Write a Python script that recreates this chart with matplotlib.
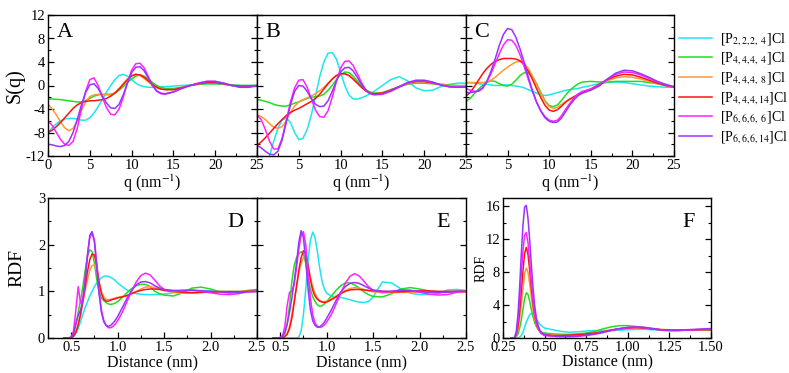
import numpy as np
import matplotlib
matplotlib.use("Agg")
import matplotlib.pyplot as plt
from matplotlib.ticker import MultipleLocator, NullFormatter

plt.rcParams["font.family"] = ["Liberation Serif", "DejaVu Serif"]
plt.rcParams["mathtext.fontset"] = "stix"
plt.rcParams["axes.unicode_minus"] = False

# ---- data ---------------------------------------------------------------
labels = [r"[P$_{2,2,2,\ 4}$]Cl", r"[P$_{4,4,4,\ 4}$]Cl", r"[P$_{4,4,4,\ 8}$]Cl",
          r"[P$_{4,4,4,14}$]Cl", r"[P$_{6,6,6,\ 6}$]Cl", r"[P$_{6,6,6,14}$]Cl"]
colors = ["#1ee6ee", "#22dd22", "#ff9933", "#ff1111", "#ff22ff", "#9933ff"]

# q grid (nm^-1) for the structure factors
q = np.concatenate([np.arange(0, 14, 0.5), np.arange(14, 26, 1.0)])

# panel A
sqA_2224 = [-8, -7.2, -6.5, -6, -5.7, -5.6, -5.6, -5.7, -5.9, -5.9, -5.5, -4.7, -3.6, -2.4,
            -1.1, 0, 1, 1.7, 1.9, 1.6, 1, 0.4, 0, -0.2, -0.3, -0.3, -0.3, -0.2,
            -0.2, -0.1, 0, 0.1, 0.2, 0.3, 0.3, 0.2, 0.1, 0, 0, 0]
sqA_4444 = [-2.3, -2.3, -2.35, -2.4, -2.5, -2.6, -2.7, -2.8, -2.8, -2.6, -2.2, -1.8, -1.6, -1.5,
            -1.5, -1.5, -1.3, -0.8, -0.2, 0.5, 1.1, 1.6, 1.8, 1.6, 1.1, 0.5, 0, -0.3,
            -0.5, -0.5, -0.3, 0, 0.2, 0.3, 0.3, 0.2, 0.1, 0, 0, 0]
sqA_4448 = [-3.2, -4, -5, -6.2, -7.2, -7.7, -7.3, -6, -4.3, -2.8, -1.9, -1.6, -1.5, -1.5,
            -1.6, -1.6, -1.2, -0.5, 0.3, 1.1, 1.7, 1.9, 1.7, 1.2, 0.6, 0, -0.4, -0.6,
            -0.7, -0.7, -0.4, 0, 0.3, 0.5, 0.5, 0.3, 0, -0.1, -0.1, 0]
sqA_44414 = [-8, -7.6, -7, -6.3, -5.5, -4.7, -3.9, -3.3, -2.9, -2.7, -2.6, -2.6, -2.5, -2.4,
             -2.2, -1.8, -1.3, -0.6, 0.2, 1, 1.6, 1.9, 1.8, 1.4, 0.8, 0.2, -0.3, -0.6,
             -0.7, -0.7, -0.4, 0, 0.3, 0.5, 0.5, 0.3, 0, -0.1, -0.1, 0]
sqA_6666 = [-6, -6.8, -8, -9.2, -10, -10.2, -9.5, -7.3, -4, -1, 1, 1.3, 0, -2,
            -3.8, -4.9, -5, -4, -2, 0.5, 2.6, 3.7, 3.8, 3, 1.5, 0, -1, -1.4,
            -1.5, -1.1, -0.5, 0, 0.4, 0.7, 0.7, 0.4, 0, -0.3, -0.3, 0]
sqA_66614 = [-10, -10.1, -10.3, -10.4, -10.2, -9.5, -8, -5.8, -3.3, -1.2, 0.1, 0.3, -0.5, -1.8,
             -3, -3.8, -3.9, -3.2, -1.6, 0.4, 2.2, 3.1, 3.2, 2.5, 1.3, 0, -0.9, -1.3,
             -1.4, -1.1, -0.5, 0, 0.4, 0.7, 0.7, 0.4, 0, -0.3, -0.3, 0]

# panel B
sqB_2224 = [-16, -15, -14, -12, -9.5, -7.3, -5.9, -5.5, -6.3, -8, -9.2, -9, -7.5, -5,
            -1.8, 1.5, 4, 5.5, 5.6, 4.5, 2.3, 0, -1.6, -2.3, -2.3, -2.1, -1.8, -1.4,
            -1.0, 0, 1.0, 1.5, 0.8, -0.4, -0.9, -0.8, -0.2, 0.2, 0.4, 0.4]
sqB_4444 = [-2.4, -2.5, -2.7, -2.9, -3.2, -3.4, -3.5, -3.5, -3.3, -3, -2.8, -2.5, -2.2, -2,
            -1.9, -1.8, -1.5, -0.8, 0, 1, 1.8, 2.3, 2.2, 1.6, 0.8, 0, -0.7, -1.1,
            -1.3, -1.2, -0.7, -0.2, 0.2, 0.4, 0.4, 0.3, 0.2, 0.1, 0, 0]
sqB_4448 = [-5, -5.3, -5.8, -6.5, -7.1, -7.3, -7, -6, -4.6, -3.5, -2.8, -2.4, -2.1, -1.8,
            -1.4, -0.9, -0.3, 0.4, 1.1, 1.7, 2, 2, 1.7, 1.1, 0.4, -0.3, -0.9, -1.3,
            -1.4, -1.3, -0.8, -0.2, 0.3, 0.6, 0.6, 0.4, 0.2, 0, -0.1, 0]
sqB_44414 = [-10.2, -9.6, -8.9, -8.1, -7.3, -6.5, -5.8, -5.1, -4.6, -4.2, -3.9, -3.5, -3.1, -2.7,
             -2.2, -1.5, -0.6, 0.3, 1.1, 1.7, 2, 2, 1.7, 1.1, 0.4, -0.3, -0.9, -1.3,
             -1.4, -1.3, -0.8, -0.2, 0.4, 0.7, 0.7, 0.4, 0.1, -0.2, -0.3, -0.3]
sqB_6666 = [-5, -5.8, -7.5, -9.5, -10.8, -10.8, -9, -6, -2.8, -0.4, 0.9, 1, -0.3, -2.3,
            -4.2, -5.3, -5.4, -4.3, -2, 0.7, 3, 4.1, 4.2, 3.4, 2, 0.5, -0.7, -1.4,
            -1.6, -1.5, -1, -0.3, 0.4, 0.8, 0.8, 0.5, 0.1, -0.2, -0.3, -0.2]
sqB_66614 = [-10.2, -10.6, -11.2, -11.7, -11.8, -11.2, -9.3, -6.3, -3.3, -1, 0, -0.1, -1, -2.2,
             -3.2, -3.6, -3.5, -2.6, -1, 0.8, 2.3, 3, 3.1, 2.5, 1.4, 0.2, -0.8, -1.3,
             -1.5, -1.4, -0.9, -0.2, 0.5, 0.9, 0.9, 0.6, 0.1, -0.2, -0.3, -0.2]

# panel C
sqC_2224 = [0.5, 0.5, 0.4, 0.3, 0.2, 0.2, 0.1, 0, 0, 0.1, 0.1, 0, -0.1, -0.2,
            -0.4, -0.7, -1, -1.3, -1.6, -1.7, -1.6, -1.4, -1.2, -1, -0.8, -0.7, -0.6, -0.5,
            -0.3, 0, 0.3, 0.5, 0.6, 0.5, 0.3, 0.1, -0.1, -0.2, -0.3, -0.3]
sqC_4444 = [-2.7, -2.2, -1.4, -0.6, 0, 0.5, 0.8, 0.7, 0.3, 0, -0.1, 0.2, 0.9, 1.7,
            2.2, 2.1, 1.5, 0.3, -1.2, -2.6, -3.4, -3.6, -3.3, -2.5, -1.6, -0.8, -0.2, 0.3,
            0.6, 0.7, 0.6, 0.6, 0.7, 0.7, 0.7, 0.7, 0.5, 0.3, 0, -0.3]
sqC_4448 = [0.4, 0.5, 0.5, 0.5, 0.5, 0.6, 0.9, 1.4, 2, 2.6, 3.1, 3.6, 4, 4.1,
            3.8, 2.9, 1.6, 0.1, -1.4, -2.7, -3.6, -3.9, -3.7, -3.2, -2.7, -2.3, -1.9, -1.5,
            -1.2, -0.6, 0.1, 0.8, 1.3, 1.5, 1.4, 1.1, 0.7, 0.3, 0, -0.3]
sqC_44414 = [-1.8, -1.2, -0.2, 0.9, 2, 2.9, 3.6, 4.1, 4.4, 4.6, 4.6, 4.6, 4.5, 4.2,
             3.5, 2.4, 1, -0.6, -2.1, -3.4, -4.2, -4.4, -4.1, -3.5, -2.8, -2.3, -1.9, -1.5,
             -1.2, -0.6, 0.2, 1, 1.6, 1.9, 1.8, 1.4, 0.9, 0.4, 0, -0.3]
sqC_6666 = [-0.5, -0.8, -1, -1, -0.5, 0.6, 2, 3.7, 5.4, 6.9, 7.8, 7.7, 6.8, 5.2,
            3.2, 1, -1.1, -2.9, -4.3, -5.3, -5.9, -6.1, -5.9, -5.1, -4, -3, -2.1, -1.4,
            -1, -0.6, 0.1, 1.1, 1.9, 2.3, 2.2, 1.8, 1.2, 0.6, 0.1, -0.3]
sqC_66614 = [-1.2, -1.2, -1.1, -0.9, -0.4, 0.7, 2.4, 4.5, 6.8, 8.7, 9.7, 9.5, 8.2, 6.2,
             3.9, 1.4, -0.9, -2.9, -4.4, -5.5, -6.1, -6.3, -6.2, -5.5, -4.4, -3.3, -2.4, -1.7,
             -1.3, -0.8, -0.1, 1.1, 2.1, 2.6, 2.5, 2, 1.4, 0.7, 0.2, -0.2]

# distance grid (nm) for panels D and E
r = np.concatenate([np.arange(0.425, 1.0001, 0.025), np.arange(1.05, 1.5001, 0.05),
                    np.arange(1.6, 2.5001, 0.1)])

# panel D
rdfD_2224 = [0, 0, 0, 0, 0.03, 0.1, 0.2, 0.35, 0.5, 0.65, 0.78, 0.9, 1.0, 1.1, 1.18, 1.25,
             1.29, 1.32, 1.33, 1.32, 1.3, 1.27, 1.23, 1.18,
             1.1, 1.03, 0.98, 0.95, 0.94, 0.93, 0.93, 0.93, 0.93, 0.94,
             0.97, 1.0, 1.02, 1.02, 1.01, 1.0, 1.0, 1.0, 1.0, 1.0]
rdfD_4444 = [0, 0, 0, 0.02, 0.1, 0.3, 0.55, 0.8, 1.1, 1.45, 1.75, 1.89, 1.85, 1.6, 1.25, 0.98,
             0.85, 0.8, 0.76, 0.73, 0.72, 0.73, 0.75, 0.78,
             0.87, 0.97, 1.06, 1.12, 1.15, 1.15, 1.1, 1.0, 0.95, 0.92,
             0.9, 0.97, 1.07, 1.09, 1.05, 0.99, 0.96, 0.98, 1.02, 1.04]
rdfD_4448 = [0, 0, 0, 0.01, 0.05, 0.15, 0.3, 0.5, 0.75, 1.0, 1.25, 1.45, 1.55, 1.57, 1.45, 1.2,
             1.0, 0.88, 0.83, 0.82, 0.83, 0.84, 0.86, 0.87,
             0.89, 0.91, 0.95, 1.0, 1.05, 1.09, 1.1, 1.08, 1.05, 1.02,
             0.98, 0.96, 0.96, 0.97, 0.99, 1.0, 1.0, 1.0, 1.0, 1.0]
rdfD_44414 = [0, 0, 0, 0.01, 0.04, 0.12, 0.28, 0.5, 0.8, 1.1, 1.42, 1.68, 1.8, 1.78, 1.55, 1.2,
              0.95, 0.83, 0.79, 0.79, 0.81, 0.83, 0.84, 0.86,
              0.88, 0.91, 0.95, 0.99, 1.02, 1.04, 1.05, 1.05, 1.04, 1.02,
              1.0, 0.98, 0.97, 0.98, 0.98, 0.99, 0.99, 0.99, 1.0, 1.0]
rdfD_6666 = [0, 0, 0, 0.02, 0.15, 0.6, 1.1, 0.75, 0.85, 1.3, 1.8, 2.15, 2.25, 2.1, 1.6, 1.0,
             0.6, 0.38, 0.27, 0.22, 0.22, 0.25, 0.3, 0.37,
             0.55, 0.78, 1.0, 1.2, 1.34, 1.39, 1.35, 1.24, 1.12, 1.04,
             1.0, 1.02, 1.03, 1.0, 0.97, 0.94, 0.93, 0.95, 0.99, 1.0]
rdfD_66614 = [0, 0, 0, 0.02, 0.1, 0.3, 0.48, 0.6, 0.8, 1.2, 1.75, 2.2, 2.28, 2.05, 1.5, 0.95,
              0.55, 0.35, 0.27, 0.25, 0.27, 0.32, 0.38, 0.46,
              0.65, 0.85, 1.02, 1.14, 1.2, 1.21, 1.18, 1.12, 1.07, 1.04,
              1.02, 1.02, 1.02, 1.01, 1.0, 0.99, 0.98, 0.98, 0.99, 1.0]

# panel E
rdfE_2224 = [0, 0, 0, 0, 0, 0, 0, 0, 0, 0, 0, 0.02, 0.15, 0.5, 1.05, 1.65,
             2.1, 2.27, 2.15, 1.85, 1.5, 1.22, 1.05, 0.96,
             0.9, 0.88, 0.87, 0.85, 0.82, 0.79, 0.77, 0.76, 0.78, 0.88,
             1.2, 1.18, 1.05, 0.96, 0.93, 0.93, 0.95, 1.03, 1.04, 1.02]
rdfE_4444 = [0, 0, 0, 0, 0.02, 0.1, 0.3, 0.7, 1.2, 1.55, 1.72, 1.8, 1.85, 1.8, 1.6, 1.3,
             1.05, 0.88, 0.78, 0.71, 0.68, 0.69, 0.73, 0.78,
             0.9, 1.02, 1.12, 1.18, 1.18, 1.14, 1.07, 0.99, 0.93, 0.89,
             0.88, 0.95, 1.05, 1.08, 1.05, 1.01, 0.99, 0.99, 1.0, 1.0]
rdfE_4448 = [0, 0, 0, 0, 0.01, 0.04, 0.1, 0.25, 0.5, 0.8, 1.1, 1.4, 1.6, 1.72, 1.72, 1.55,
             1.3, 1.1, 0.95, 0.86, 0.8, 0.78, 0.78, 0.79,
             0.84, 0.9, 0.96, 1.02, 1.06, 1.08, 1.07, 1.04, 1.01, 0.99,
             0.97, 0.97, 0.98, 0.98, 0.98, 0.98, 0.98, 0.98, 0.98, 0.98]
rdfE_44414 = [0, 0, 0, 0, 0.01, 0.03, 0.08, 0.2, 0.42, 0.75, 1.1, 1.45, 1.72, 1.87, 1.82, 1.55,
              1.25, 1.02, 0.9, 0.83, 0.79, 0.77, 0.76, 0.77,
              0.82, 0.88, 0.95, 1.0, 1.03, 1.04, 1.04, 1.03, 1.02, 1.01,
              1.0, 0.99, 0.99, 1.0, 1.01, 1.01, 1.0, 1.0, 1.0, 1.0]
rdfE_6666 = [0, 0, 0, 0.01, 0.05, 0.25, 0.7, 0.98, 1.0, 1.15, 1.5, 1.9, 2.2, 2.28, 2.0, 1.4,
             0.85, 0.5, 0.32, 0.25, 0.23, 0.24, 0.28, 0.34,
             0.5, 0.72, 0.95, 1.17, 1.32, 1.38, 1.33, 1.22, 1.1, 1.02,
             0.98, 1.0, 1.03, 1.02, 0.98, 0.94, 0.92, 0.93, 0.98, 1.0]
rdfE_66614 = [0, 0, 0, 0.01, 0.04, 0.12, 0.3, 0.55, 0.85, 1.2, 1.6, 2.05, 2.3, 2.15, 1.65, 1.05,
              0.6, 0.37, 0.27, 0.23, 0.24, 0.28, 0.34, 0.42,
              0.6, 0.8, 0.98, 1.1, 1.17, 1.19, 1.17, 1.12, 1.07, 1.03,
              1.0, 1.0, 1.02, 1.02, 1.0, 0.98, 0.97, 0.98, 1.0, 1.0]

# distance grid (nm) for panel F
rF = np.concatenate([np.arange(0.30, 0.5001, 0.01), np.arange(0.55, 1.5001, 0.05)])

rdfF_2224 = [0, 0, 0, 0, 0.02, 0.1, 0.3, 0.7, 1.3, 1.9, 2.4, 2.8, 3.0, 2.9, 2.6, 2.3, 2.0,
             1.7, 1.5, 1.35, 1.2,
             1.0, 0.8, 0.7, 0.75, 0.85, 0.9, 0.9, 0.9, 0.95, 1.0, 1.05, 1.05, 1.0, 0.95,
             0.92, 0.92, 0.95, 0.98, 1.0, 1.02]
rdfF_4444 = [0, 0, 0.02, 0.15, 0.5, 1.2, 2.2, 3.5, 4.8, 5.5, 5.3, 4.5, 3.5, 2.6, 1.9, 1.4, 1.1,
             0.9, 0.75, 0.65, 0.6,
             0.5, 0.45, 0.45, 0.5, 0.6, 0.8, 1.1, 1.35, 1.5, 1.5, 1.4, 1.25, 1.1, 1.0,
             0.95, 0.95, 0.97, 1.0, 1.0, 1.0]
rdfF_4448 = [0, 0, 0.05, 0.3, 1.0, 2.3, 4.0, 6.0, 7.8, 8.5, 8.0, 6.6, 5.0, 3.5, 2.4, 1.6, 1.1,
             0.8, 0.6, 0.5, 0.45,
             0.35, 0.3, 0.3, 0.35, 0.45, 0.6, 0.8, 1.0, 1.15, 1.25, 1.3, 1.25, 1.15, 1.05,
             1.0, 0.98, 0.98, 1.0, 1.0, 1.0]
rdfF_44414 = [0, 0, 0.05, 0.4, 1.4, 3.2, 5.6, 8.2, 10.3, 11.0, 10.2, 8.3, 6.1, 4.2, 2.8, 1.8, 1.2,
              0.85, 0.6, 0.5, 0.4,
              0.3, 0.3, 0.35, 0.4, 0.5, 0.6, 0.75, 0.95, 1.1, 1.2, 1.25, 1.2, 1.1, 1.0,
              0.95, 0.95, 0.97, 1.0, 1.0, 1.0]
rdfF_6666 = [0, 0, 0.08, 0.6, 2.1, 4.6, 7.7, 10.6, 12.5, 12.8, 11.6, 9.4, 6.9, 4.7, 3.0, 1.9, 1.2,
             0.8, 0.55, 0.4, 0.3,
             0.2, 0.15, 0.15, 0.2, 0.3, 0.45, 0.65, 0.9, 1.1, 1.25, 1.3, 1.25, 1.1, 0.95,
             0.88, 0.88, 0.95, 1.0, 1.05, 1.1]
rdfF_66614 = [0, 0, 0.1, 0.8, 2.8, 6.2, 10.2, 13.7, 15.9, 16.1, 14.6, 12.0, 9.0, 6.2, 4.0, 2.5, 1.6,
              1.0, 0.7, 0.5, 0.4,
              0.25, 0.2, 0.2, 0.25, 0.35, 0.5, 0.7, 0.95, 1.15, 1.3, 1.35, 1.3, 1.15, 1.0,
              0.95, 0.95, 1.0, 1.05, 1.1, 1.15]

sq_panels = [
    ("A", [sqA_2224, sqA_4444, sqA_4448, sqA_44414, sqA_6666, sqA_66614]),
    ("B", [sqB_2224, sqB_4444, sqB_4448, sqB_44414, sqB_6666, sqB_66614]),
    ("C", [sqC_2224, sqC_4444, sqC_4448, sqC_44414, sqC_6666, sqC_66614]),
]
rdf_panels = [
    ("D", r, [rdfD_2224, rdfD_4444, rdfD_4448, rdfD_44414, rdfD_6666, rdfD_66614]),
    ("E", r, [rdfE_2224, rdfE_4444, rdfE_4448, rdfE_44414, rdfE_6666, rdfE_66614]),
    ("F", rF, [rdfF_2224, rdfF_4444, rdfF_4448, rdfF_44414, rdfF_6666, rdfF_66614]),
]

# ---- figure -------------------------------------------------------------
W, H = 789, 373
fig = plt.figure(figsize=(W / 100, H / 100), dpi=100)


def px_axes(x0, x1, y0, y1):
    return fig.add_axes([x0 / W, 1 - y1 / H, (x1 - x0) / W, (y1 - y0) / H])


def style(ax):
    ax.tick_params(which="both", direction="in", right=True, labelsize=10.5, pad=2)
    ax.tick_params(which="major", length=4, width=0.9)
    ax.tick_params(which="minor", length=2.5, width=0.8)
    for s in ax.spines.values():
        s.set_linewidth(1.0)


top_axes = [px_axes(48, 257, 15, 156), px_axes(257, 466, 15, 156), px_axes(466, 674, 15, 156)]
bot_axes = [px_axes(48, 257, 198, 338), px_axes(257, 466, 198, 338), px_axes(503, 711, 198, 338)]

lines = []
for i, (ax, (name, series)) in enumerate(zip(top_axes, sq_panels)):
    for y, c in zip(series, colors):
        (ln,) = ax.plot(q, y, color=c, lw=1.1)
        if i == 0:
            lines.append(ln)
    ax.set_xlim(0, 25)
    ax.set_ylim(-12, 12)
    ax.xaxis.set_major_locator(MultipleLocator(5))
    ax.xaxis.set_minor_locator(MultipleLocator(2.5))
    ax.yaxis.set_major_locator(MultipleLocator(4))
    ax.yaxis.set_minor_locator(MultipleLocator(2))
    style(ax)
    ax.set_xlabel(r"q (nm$^{-1}$)", fontsize=11.5)
    ax.xaxis.set_label_coords(0.5, -0.115)
    ax.text(0.04, 0.94, name, transform=ax.transAxes, fontsize=16, va="top", ha="left")
    if i == 0:
        ax.set_ylabel("S(q)", fontsize=14.5)
        ax.yaxis.set_label_coords(-0.11, 0.5)
    else:
        ax.yaxis.set_major_formatter(NullFormatter())
        ax.set_xticks([5, 10, 15, 20, 25])

for i, (ax, (name, xs, series)) in enumerate(zip(bot_axes, rdf_panels)):
    for y, c in zip(series, colors):
        ax.plot(xs, y, color=c, lw=1.1)
    style(ax)
    if name == "F":
        ax.set_xlim(0.25, 1.5)
        ax.set_ylim(0, 17)
        ax.xaxis.set_major_locator(MultipleLocator(0.25))
        ax.xaxis.set_minor_locator(MultipleLocator(0.125))
        ax.yaxis.set_major_locator(MultipleLocator(4))
        ax.yaxis.set_minor_locator(MultipleLocator(2))
        ax.xaxis.set_major_formatter(lambda v, p: f"{v:.2f}")
        ax.set_ylabel("RDF", fontsize=10)
        ax.yaxis.set_label_coords(-0.075, 0.5)
        ax.set_xlabel("Distance (nm)", fontsize=11.5)
        ax.xaxis.set_label_coords(0.5, -0.115)
    else:
        ax.set_xlim(0.25, 2.5)
        ax.set_ylim(0, 3)
        ax.xaxis.set_major_locator(MultipleLocator(0.5))
        ax.xaxis.set_minor_locator(MultipleLocator(0.25))
        ax.yaxis.set_major_locator(MultipleLocator(1))
        ax.yaxis.set_minor_locator(MultipleLocator(0.5))
        ax.xaxis.set_major_formatter(lambda v, p: f"{v:.1f}")
        ax.set_xlabel("Distance (nm)", fontsize=11.5)
        ax.xaxis.set_label_coords(0.5, -0.125)
        if name == "D":
            ax.set_ylabel("RDF", fontsize=14)
            ax.yaxis.set_label_coords(-0.11, 0.5)
        else:
            ax.yaxis.set_major_formatter(NullFormatter())
    ax.text(0.86, 0.89, name, transform=ax.transAxes, fontsize=16, va="top", ha="left")

fig.legend(lines, labels, loc="upper left", bbox_to_anchor=(679 / W, 1 - 31 / H),
           frameon=False, fontsize=10, handlelength=2.4, handletextpad=0.55,
           labelspacing=0.22, borderpad=0, borderaxespad=0)

fig.savefig("out.png", dpi=100)
